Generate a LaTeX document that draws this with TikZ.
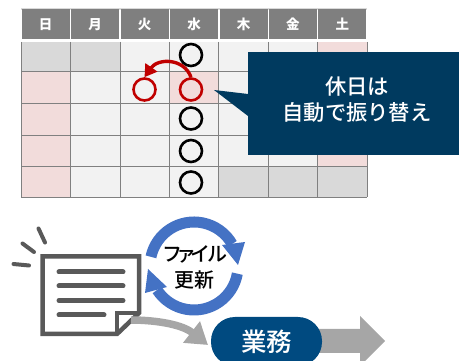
\documentclass[tikz,border=0pt]{standalone}
\usepackage{fontspec}
\setmainfont{Noto Sans CJK JP}
\newfontfamily\medium{Noto Sans CJK JP Medium}
\usetikzlibrary{arrows.meta}
\definecolor{headgray}{HTML}{7F7F7F}
\definecolor{celllight}{HTML}{F2F2F2}
\definecolor{cellgray}{HTML}{D9D9D9}
\definecolor{cellpink}{HTML}{F2DCDB}
\definecolor{holidayred}{HTML}{C00000}
\definecolor{navy}{HTML}{003A5F}
\definecolor{jobblue}{HTML}{004A80}
\definecolor{cycleblue}{HTML}{4472C4}
\definecolor{arrowgray}{HTML}{A6A6A6}
\definecolor{icongray}{HTML}{595959}
\tikzset{
  daylabel/.style={text=white,font=\bfseries\fontsize{13.5}{13.5}\selectfont,fill=headgray,minimum width=48pt,minimum height=30pt,inner sep=0pt},
  mark circle/.style={circle,draw=black,line width=2.6pt,minimum size=22pt,inner sep=0pt},
  moved circle/.style={mark circle,draw=holidayred},
}
\begin{document}
\begin{tikzpicture}[x=1pt,y=-1pt]
\useasboundingbox (0,0) rectangle (459,361);
\clip (0,0) rectangle (459,361);
\fill[cellgray] (21,8.5) rectangle (367,10);
\foreach \day [count=\i from 0] in {日,月,火,水,木,金,土} {
  \node[daylabel] (day\i) at ({45.7+49.45*\i},24.5) {\day};
}
\fill[celllight] (21,42) rectangle (367,197.5);
\foreach \xa/\ya/\xb/\yb/\col in {21/42/70.5/71.5/cellgray,70.5/42/120/71.5/cellgray,
  317.5/42/367/71.5/cellpink,21/71.5/70.5/197.5/cellpink,169.5/71.5/218.5/103.5/cellpink,
  317.5/71.5/367/166/cellpink,218.5/166/367/197.5/cellgray} {
  \fill[\col] (\xa,\ya) rectangle (\xb,\yb);
}
\foreach \x in {21,70.5,120,169.5,218.5,268,317.5,367} {
  \draw[gray,line width=.8pt] (\x,42) -- (\x,197.5);
}
\foreach \y in {71.5,103.5,135,166,197.5} {
  \draw[gray,line width=.8pt] (21,\y) -- (367,\y);
}
\node[mark circle] (wed1) at (191,55) {};
\node[moved circle] (tue2) at (144.5,89.5) {};
\node[moved circle] (wed2) at (191,89.5) {};
\node[mark circle] (wed3) at (191,118.5) {};
\node[mark circle] (wed4) at (191,151) {};
\node[mark circle] (wed5) at (191,182.5) {};
\draw[holidayred,line width=3.4pt,-{Triangle[length=12pt,width=14pt]}] (wed2.north) .. controls (184,58) and (158,58) .. (tue2.north);
% callout
\node[fill=navy,minimum width=211pt,minimum height=103pt,inner sep=0pt] (callout) at (353.5,103.5) {};
\node[text=white,inner sep=0pt,align=center,font=\medium\fontsize{21.3}{26}\selectfont] (callouttext) at (357,100) {休日は\\自動で振り替え};
\coordinate (callouttip) at (214,90);
\fill[navy] (callouttip) -- (248,94) -- (248,116) -- cycle;
% file icon
\draw[icongray,line width=4pt,line cap=round] (13.5,264) -- (29,265.5);
\draw[icongray,line width=4pt,line cap=round] (22.5,243.5) -- (34,252);
\draw[icongray,line width=4pt,line cap=round] (38.5,228.5) -- (45,242.5);
\draw[icongray,line width=4.5pt,fill=white] (42.5,256.5) -- (139,256.5) -- (139,313) -- (117,334) -- (42.5,334) -- cycle;
\draw[icongray,line width=4.5pt] (117,334) -- (117,313) -- (139,313);
\foreach \y/\xend in {272/123,286/123,300.5/123,315/104} {
  \draw[icongray,line width=5pt,line cap=round] (59,\y) -- (\xend,\y);
}
\coordinate (filefold) at (131,320);
% update cycle
\node[align=center,font=\medium\fontsize{20}{26}\selectfont] (update) at (194.5,267.5) {フ\kern-6ptァ\kern-6ptイ\kern-3ptル\\更新};
\draw[cycleblue,line width=11pt] (194,266) ++(-168:44) arc[start angle=-168,delta angle=138,radius=44];
\fill[cycleblue] (222,245) -- (245,242) -- (238,265) -- cycle;
\draw[cycleblue,line width=11pt] (194,266) ++(10:44) arc[start angle=10,delta angle=137,radius=44];
\fill[cycleblue] (145,293) -- (167,287) -- (148,269) -- cycle;
% job
\fill[arrowgray] (315,329) -- (360,329) -- (360,316) -- (385,341) -- (360,366) -- (360,353) -- (315,353) -- cycle;
\node[fill=jobblue,text=white,rounded corners=24pt,minimum width=111pt,minimum height=49pt,inner sep=0pt,font=\medium\fontsize{25.5}{25.5}\selectfont] (job) at (266.5,341.5) {業務};
\coordinate (jobin) at (208,345);
\draw[arrowgray,line width=7.5pt,-{Triangle[length=21pt,width=26pt]}] (filefold) .. controls (150,320) and (180,323) .. (jobin);
\end{tikzpicture}
\end{document}
